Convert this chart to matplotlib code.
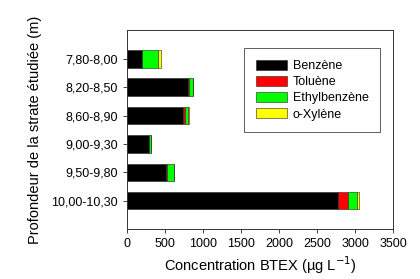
import numpy as np
import matplotlib.pyplot as plt

plt.rcParams['font.family'] = ['Liberation Sans', 'DejaVu Sans']

strates = ["7,80-8,00", "8,20-8,50", "8,60-8,90", "9,00-9,30", "9,50-9,80", "10,00-10,30"]
benzene = [195, 800, 740, 290, 518, 2770]
toluene = [5, 20, 27, 3, 8, 132]
ethylbenzene = [205, 42, 40, 22, 93, 120]
xylene = [47, 5, 4, 2, 2, 35]

series = [("Benzène", benzene, "black"),
          ("Toluène", toluene, "#ff0000"),
          ("Ethylbenzène", ethylbenzene, "#00ff00"),
          ("o-Xylène", xylene, "#ffff00")]

fig = plt.figure(figsize=(4.2, 2.79), dpi=100)
ax = fig.add_axes([127/420, 1 - 229/279, 266/420, 199/279])

y = np.arange(len(strates))
left = np.zeros(len(strates))
for name, vals, col in series:
    ax.barh(y, vals, left=left, height=0.62, color=col, edgecolor='#222222',
            linewidth=0.4, label=name)
    left += np.array(vals)

ax.set_xlim(0, 3500)
ax.set_ylim(5 + 1.0, -1.02)
ax.set_xticks(np.arange(0, 3501, 500))
ax.set_yticks(y)
ax.set_yticklabels(strates)
ax.tick_params(axis='both', labelsize=9, direction='out', length=3, width=0.6,
               colors='#222222', labelcolor='black', top=False, right=False)
for s in ax.spines.values():
    s.set_linewidth(0.7)
    s.set_color('#333333')

ax.set_xlabel("Concentration BTEX (µg L$^{-1}$)", fontsize=10.5, labelpad=3)
ax.set_ylabel("Profondeur de la strate étudiée (m)", fontsize=10.5, labelpad=7)

leg = ax.legend(loc='upper right', bbox_to_anchor=(0.976, 0.94), fontsize=9,
                frameon=True, fancybox=False, handlelength=2.5, handleheight=0.8,
                handletextpad=0.45, borderpad=0.95, labelspacing=0.32)
leg.get_frame().set_edgecolor('#333333')
leg.get_frame().set_linewidth(0.7)

fig.savefig("out.png", dpi=100)
